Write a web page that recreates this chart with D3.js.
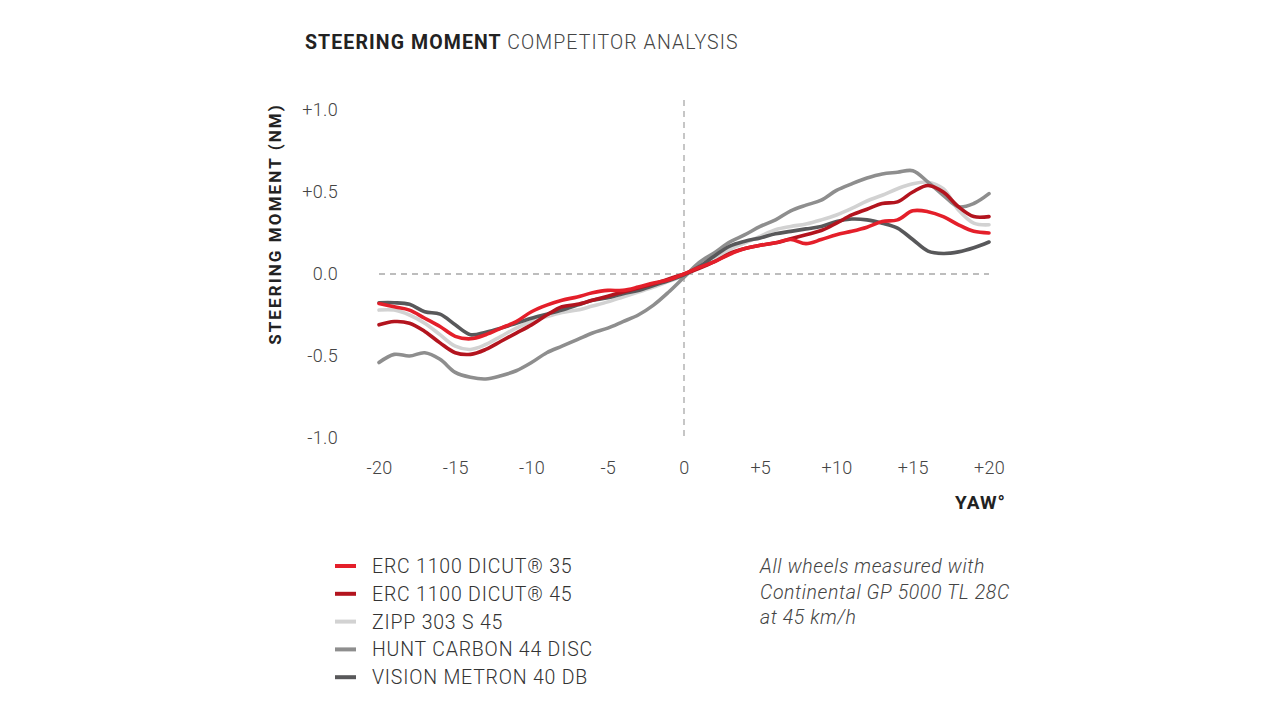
<!DOCTYPE html>
<html><head><meta charset="utf-8">
<script src="https://cdn.jsdelivr.net/npm/d3@7"></script>
<style>body{margin:0;background:#fff}svg{display:block}</style>
</head><body><svg id="c" width="1280" height="720"></svg>
<script>
const yaw = d3.range(-20, 21);
const erc35 = [-0.18,-0.20,-0.22,-0.27,-0.32,-0.38,-0.395,-0.37,-0.33,-0.29,-0.23,-0.19,-0.16,-0.14,-0.115,-0.10,-0.10,-0.08,-0.055,-0.035,0.0,0.04,0.075,0.12,0.155,0.175,0.19,0.21,0.185,0.21,0.24,0.26,0.285,0.32,0.33,0.385,0.38,0.35,0.30,0.26,0.25];
const erc45 = [-0.31,-0.29,-0.30,-0.35,-0.42,-0.48,-0.49,-0.46,-0.41,-0.36,-0.31,-0.25,-0.20,-0.185,-0.16,-0.135,-0.11,-0.085,-0.06,-0.03,0.0,0.035,0.075,0.125,0.155,0.175,0.19,0.215,0.24,0.265,0.31,0.36,0.395,0.43,0.44,0.50,0.54,0.50,0.41,0.35,0.35];
const zipp = [-0.22,-0.22,-0.25,-0.30,-0.37,-0.44,-0.46,-0.43,-0.38,-0.33,-0.29,-0.26,-0.235,-0.22,-0.195,-0.17,-0.14,-0.11,-0.08,-0.045,-0.01,0.04,0.09,0.15,0.19,0.23,0.27,0.29,0.305,0.33,0.36,0.40,0.445,0.48,0.52,0.55,0.56,0.52,0.39,0.31,0.30];
const hunt = [-0.54,-0.49,-0.50,-0.48,-0.52,-0.60,-0.63,-0.64,-0.62,-0.59,-0.54,-0.48,-0.44,-0.40,-0.36,-0.33,-0.29,-0.25,-0.19,-0.11,-0.02,0.07,0.13,0.195,0.24,0.29,0.33,0.385,0.42,0.45,0.51,0.55,0.585,0.61,0.62,0.63,0.56,0.48,0.41,0.43,0.49];
const vision = [-0.175,-0.175,-0.185,-0.23,-0.245,-0.31,-0.37,-0.355,-0.33,-0.30,-0.27,-0.245,-0.22,-0.19,-0.16,-0.145,-0.12,-0.10,-0.07,-0.04,-0.005,0.045,0.11,0.17,0.20,0.22,0.245,0.26,0.275,0.29,0.32,0.335,0.33,0.31,0.28,0.21,0.14,0.125,0.135,0.16,0.195];
const seriesNames = ["ERC 1100 DICUT® 35","ERC 1100 DICUT® 45","ZIPP 303 S 45","HUNT CARBON 44 DISC","VISION METRON 40 DB"];
const seriesColors = ["#e41f2a","#b3141e","#d2d2d2","#8e8e8e","#58585a"];
const seriesValues = [erc35, erc45, zipp, hunt, vision];
const xTicks = [-20,-15,-10,-5,0,5,10,15,20];
const yTicks = [1,0.5,0,-0.5,-1];
const noteLines = ["All wheels measured with","Continental GP 5000 TL 28C","at 45 km/h"];

const svg = d3.select("#c");
const x = d3.scaleLinear().domain([-20,20]).range([379,989]);
const y = d3.scaleLinear().domain([-1,1]).range([438,110]);
const font = "Roboto, 'DejaVu Sans', sans-serif";

// title
const t = svg.append("text").attr("x",305).attr("y",49).attr("font-family",font).attr("font-size",19.5).attr("letter-spacing",1.1);
t.append("tspan").attr("font-weight",700).attr("fill","#222").text("STEERING MOMENT ");
t.append("tspan").attr("font-weight",300).attr("fill","#444").text("COMPETITOR ANALYSIS");

// reference lines
svg.append("line").attr("x1",x(-20)).attr("x2",x(20)).attr("y1",y(0)).attr("y2",y(0))
  .attr("stroke","#a8a8a8").attr("stroke-width",1.3).attr("stroke-dasharray","6,5");
svg.append("line").attr("x1",x(0)).attr("x2",x(0)).attr("y1",100).attr("y2",y(-1))
  .attr("stroke","#a8a8a8").attr("stroke-width",1.3).attr("stroke-dasharray","6,5");

// y axis labels
const fmt = v => v>0 ? "+"+v.toFixed(1) : v.toFixed(1);
const yAxis = svg.append("g").attr("transform","translate(338,0)")
  .call(d3.axisLeft(y).tickValues(yTicks).tickFormat(fmt).tickSize(0).tickPadding(0));
yAxis.select(".domain").remove();
yAxis.selectAll("text").attr("font-family",font).attr("font-size",18).attr("font-weight",300).attr("fill","#444").attr("letter-spacing",0.3);

// x axis labels
const xfmt = v => v>0 ? "+"+v : String(v);
const xAxis = svg.append("g").attr("transform","translate(0,461)")
  .call(d3.axisBottom(x).tickValues(xTicks).tickFormat(xfmt).tickSize(0).tickPadding(0));
xAxis.select(".domain").remove();
xAxis.selectAll("text").attr("font-family",font).attr("font-size",18).attr("font-weight",300).attr("fill","#444").attr("letter-spacing",0.3);

// axis titles
svg.append("text").attr("transform","translate(281,224) rotate(-90)").attr("text-anchor","middle")
  .attr("font-family",font).attr("font-size",17).attr("font-weight",700).attr("fill","#222")
  .attr("letter-spacing",2.1).text("STEERING MOMENT (NM)");
svg.append("text").attr("x",1006).attr("y",509).attr("text-anchor","end")
  .attr("font-family",font).attr("font-size",19).attr("font-weight",700).attr("fill","#222")
  .attr("letter-spacing",1).text("YAW°");

// lines
const line = d3.line().x((d,i)=>x(yaw[i])).y(d=>y(d)).curve(d3.curveCatmullRom.alpha(0.5));
const order = [2,3,4,1,0];
order.forEach(k=>{
  svg.append("path").datum(seriesValues[k]).attr("d",line).attr("fill","none")
    .attr("stroke",seriesColors[k]).attr("stroke-width",3.6).attr("stroke-linejoin","round").attr("stroke-linecap","round");
});

// legend
seriesNames.forEach((n,i)=>{
  const yy = 566 + i*27.8;
  svg.append("line").attr("x1",335).attr("x2",356).attr("y1",yy).attr("y2",yy)
    .attr("stroke",seriesColors[i]).attr("stroke-width",4);
  svg.append("text").attr("x",372).attr("y",yy+7).attr("font-family",font).attr("font-size",19.5)
    .attr("font-weight",300).attr("fill","#333").attr("letter-spacing",0.8).text(n);
});

// note
noteLines.forEach((s,i)=>{
  svg.append("text").attr("x",760).attr("y",573+i*25.5).attr("font-family",font).attr("font-size",19.5)
    .attr("font-style","italic").attr("font-weight",300).attr("fill","#444").attr("letter-spacing",0.6).text(s);
});
</script></body></html>
